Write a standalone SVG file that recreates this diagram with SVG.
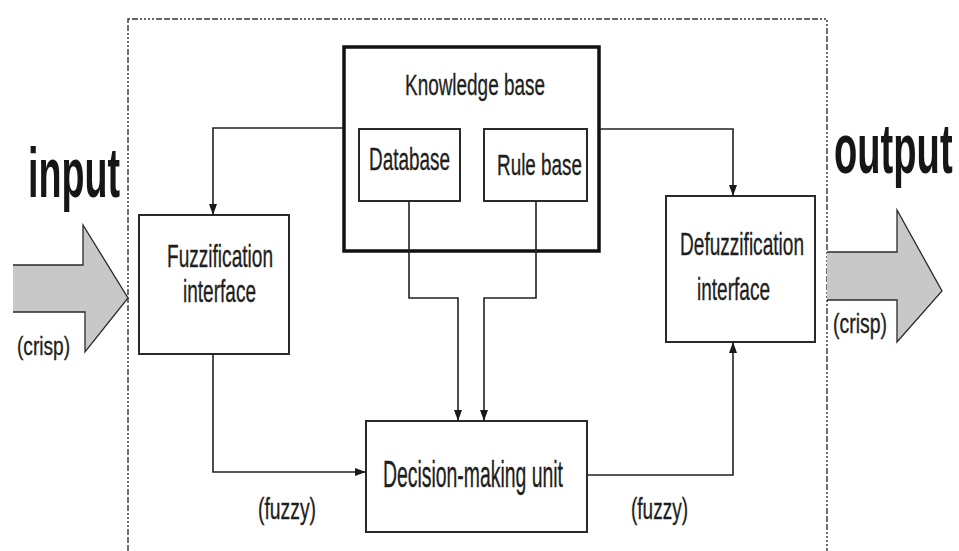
<svg xmlns="http://www.w3.org/2000/svg" width="959" height="551" viewBox="0 0 959 551">
  <defs>
    <marker id="arr" markerUnits="userSpaceOnUse" markerWidth="11" markerHeight="8" refX="11" refY="4" orient="auto">
      <path d="M0,0 L11,4 L0,8 z" fill="#1a1a1a"/>
    </marker>
    <style>
      .box { fill: #fff; stroke: #2a2a2a; stroke-width: 2; }
      .kb { fill: #fff; stroke: #111; stroke-width: 3.5; }
      .conn { fill: none; stroke: #222; stroke-width: 1.6; marker-end: url(#arr); }
      .lbl { font-family: "Liberation Sans", Arial, sans-serif; fill: #1e1e1e; stroke: #1e1e1e; stroke-width: 0.35; }
      .big { font-family: "Liberation Sans", Arial, sans-serif; font-weight: bold; fill: #161616; }
      .border { fill: none; stroke: #333; stroke-width: 1.4; stroke-dasharray: 6 2 6 2 6 2 2 2 2 2 2 2 2 2; }
      .bigarrow { fill: #c8c8c8; stroke: none; }
      .bigarrowline { fill: none; stroke: #2a2a2a; stroke-width: 1.3; }
    </style>
  </defs>
  <rect width="959" height="551" fill="#fff"/>

  <!-- system boundary -->
  <path class="border" d="M128,551 V19 H827 V551"/>

  <!-- input arrow -->
  <g id="input">
    <polygon class="bigarrow" points="13,265 83,265 83,225 128,298 85,352 85,312 13,312"/>
    <path class="bigarrowline" d="M13,265 H83 V225 L128,298 L85,352 V312 H13"/>
    <text class="big" x="28" y="197" font-size="70" textLength="92" lengthAdjust="spacingAndGlyphs">input</text>
    <text class="lbl" x="17" y="355" font-size="26" textLength="53" lengthAdjust="spacingAndGlyphs">(crisp)</text>
  </g>

  <!-- output arrow -->
  <g id="output">
    <polygon class="bigarrow" points="827,252 897,252 897,210 942,291 897,342 897,300 827,300"/>
    <path class="bigarrowline" d="M827,252 H897 V210 L942,291 L897,342 V300 H827"/>
    <text class="big" transform="translate(834,173) scale(0.545,1)" x="0" y="0" font-size="70">output</text>
    <text class="lbl" x="833" y="333" font-size="27" textLength="54" lengthAdjust="spacingAndGlyphs">(crisp)</text>
  </g>

  <g id="knowledge-base">
    <rect class="kb" x="344" y="47" width="255" height="204"/>
    <text class="lbl" x="405" y="95" font-size="30" textLength="140" lengthAdjust="spacingAndGlyphs">Knowledge base</text>
  </g>
  <g id="database">
    <rect class="box" x="359" y="129" width="101" height="72"/>
    <text class="lbl" x="369" y="170" font-size="31" textLength="81" lengthAdjust="spacingAndGlyphs">Database</text>
  </g>
  <g id="rule-base">
    <rect class="box" x="484" y="129" width="103" height="72"/>
    <text class="lbl" x="497" y="175" font-size="29" textLength="85" lengthAdjust="spacingAndGlyphs">Rule base</text>
  </g>
  <g id="fuzzification">
    <rect class="box" x="139" y="215" width="150" height="139"/>
    <text class="lbl" x="167" y="267" font-size="32" textLength="106" lengthAdjust="spacingAndGlyphs">Fuzzification</text>
    <text class="lbl" x="183" y="302" font-size="32" textLength="73" lengthAdjust="spacingAndGlyphs">interface</text>
  </g>
  <g id="defuzzification">
    <rect class="box" x="666" y="196" width="149" height="146"/>
    <text class="lbl" x="680" y="255" font-size="32" textLength="124" lengthAdjust="spacingAndGlyphs">Defuzzification</text>
    <text class="lbl" x="697" y="300" font-size="32" textLength="73" lengthAdjust="spacingAndGlyphs">interface</text>
  </g>
  <g id="decision-making">
    <rect class="box" x="366" y="421" width="221" height="111"/>
    <text class="lbl" x="383" y="487" font-size="36" textLength="180" lengthAdjust="spacingAndGlyphs">Decision-making unit</text>
  </g>

  <g id="connectors">
    <path class="conn" d="M344,128 H213 V215"/>
    <path class="conn" d="M599,129 H733 V196"/>
    <path class="conn" d="M409,201 V298 H458 V421"/>
    <path class="conn" d="M536,201 V298 H484 V421"/>
    <path class="conn" d="M213,354 V472 H366"/>
    <path class="conn" d="M587,475 H733 V342"/>
    <text class="lbl" x="258" y="519" font-size="30" textLength="58" lengthAdjust="spacingAndGlyphs">(fuzzy)</text>
    <text class="lbl" x="631" y="519" font-size="30" textLength="57" lengthAdjust="spacingAndGlyphs">(fuzzy)</text>
  </g>
</svg>
